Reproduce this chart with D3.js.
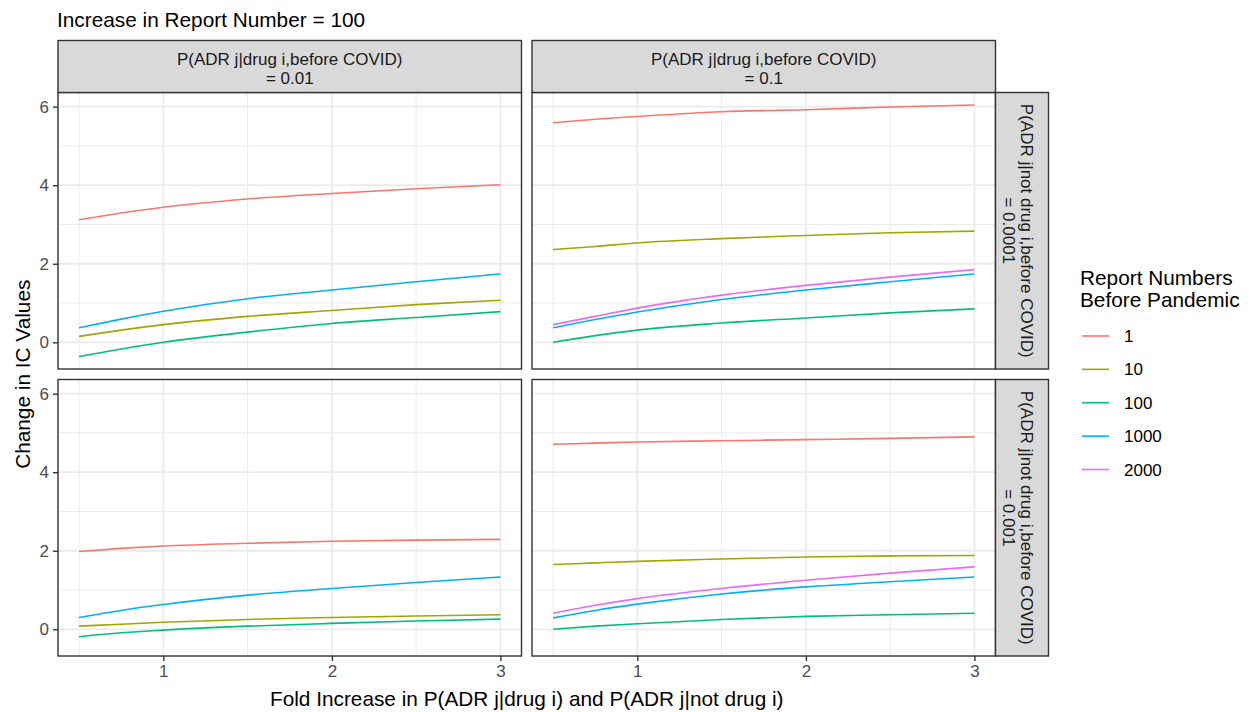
<!DOCTYPE html>
<html><head><meta charset="utf-8">
<script src="https://cdn.jsdelivr.net/npm/d3@7"></script>
<style>
body{margin:0;background:#fff;}
svg{display:block;font-family:"Liberation Sans",Arial,sans-serif;}
</style></head>
<body><svg id="c" width="1250" height="712"></svg>
<script>
// ---------------- data ----------------
const foldX = [0.5, 0.75, 1, 1.5, 2, 2.5, 3];
const groups = ["1", "10", "100", "1000", "2000"];
const groupColors = ["#F8766D", "#A3A500", "#00BF7D", "#00B0F6", "#E76BF3"];
const colLabels = [["P(ADR j|drug i,before COVID)", "= 0.01"], ["P(ADR j|drug i,before COVID)", "= 0.1"]];
const rowLabels = [["P(ADR j|not drug i,before COVID)", "= 0.0001"], ["P(ADR j|not drug i,before COVID)", "= 0.001"]];
const xTicks = [1, 2, 3];
const yTicks = [0, 2, 4, 6];

// panel (row 0 = not drug 0.0001, col 0 = drug 0.01)
const tl_1    = [3.12, 3.29, 3.44, 3.65, 3.79, 3.91, 4.01];
const tl_10   = [0.15, 0.31, 0.45, 0.66, 0.81, 0.96, 1.07];
const tl_100  = [-0.36, -0.17, 0.00, 0.26, 0.48, 0.63, 0.78];
const tl_1000 = [0.37, 0.59, 0.79, 1.11, 1.33, 1.54, 1.74];

const tr_1    = [5.59, 5.68, 5.75, 5.87, 5.92, 5.99, 6.04];
const tr_10   = [2.36, 2.44, 2.53, 2.64, 2.72, 2.79, 2.83];
const tr_100  = [0.00, 0.17, 0.31, 0.49, 0.62, 0.75, 0.85];
const tr_1000 = [0.37, 0.58, 0.77, 1.09, 1.33, 1.54, 1.74];
const tr_2000 = [0.45, 0.66, 0.87, 1.20, 1.45, 1.66, 1.85];

const bl_1    = [1.98, 2.06, 2.12, 2.19, 2.24, 2.27, 2.29];
const bl_10   = [0.08, 0.13, 0.18, 0.25, 0.30, 0.34, 0.37];
const bl_100  = [-0.19, -0.09, -0.02, 0.08, 0.15, 0.21, 0.26];
const bl_1000 = [0.30, 0.48, 0.63, 0.87, 1.04, 1.19, 1.33];

const br_1    = [4.71, 4.74, 4.77, 4.80, 4.83, 4.86, 4.90];
const br_10   = [1.65, 1.69, 1.73, 1.79, 1.84, 1.87, 1.88];
const br_100  = [0.00, 0.08, 0.14, 0.25, 0.33, 0.37, 0.41];
const br_1000 = [0.29, 0.48, 0.64, 0.90, 1.08, 1.21, 1.33];
const br_2000 = [0.41, 0.61, 0.78, 1.04, 1.25, 1.43, 1.59];

const panelSeries = [
  [ {"1":tl_1,"10":tl_10,"100":tl_100,"1000":tl_1000},
    {"1":tr_1,"10":tr_10,"100":tr_100,"1000":tr_1000,"2000":tr_2000} ],
  [ {"1":bl_1,"10":bl_10,"100":bl_100,"1000":bl_1000},
    {"1":br_1,"10":br_10,"100":br_100,"1000":br_1000,"2000":br_2000} ]
];

// ---------------- layout ----------------
const svg = d3.select("#c");
const colX = [58, 532], panelW = 463.5;
const rowY = [92.5, 379.5], panelH = 276.5;
const stripH = 52, stripW = 53;
const smallFont = 17, bigFont = 20.8;

const color = d3.scaleOrdinal().domain(groups).range(groupColors);

// shared scales with ggplot-like 5% expansion
const xExt = d3.extent(foldX);
const xPad = (xExt[1] - xExt[0]) * 0.05;
const allY = panelSeries.flat().flatMap(p => Object.values(p).flat());
const yExt = d3.extent(allY);
const yPad = (yExt[1] - yExt[0]) * 0.05;
const x = d3.scaleLinear().domain([xExt[0] - xPad, xExt[1] + xPad]).range([0, panelW]);
const y = d3.scaleLinear().domain([yExt[0] - yPad, yExt[1] + yPad]).range([panelH, 0]);

const xMinor = [0.5, 1.5, 2.5];
const yMinor = [1, 3, 5];

const line = d3.line().x((d, i) => x(foldX[i])).y(d => y(d)).curve(d3.curveMonotoneX);

for (let r = 0; r < 2; r++) {
  for (let c = 0; c < 2; c++) {
    const g = svg.append("g").attr("transform", `translate(${colX[c]},${rowY[r]})`);
    g.append("rect").attr("width", panelW).attr("height", panelH).attr("fill", "#fff");
    // minor grid
    g.selectAll(".vmin").data(xMinor).join("line")
      .attr("x1", d => x(d)).attr("x2", d => x(d)).attr("y1", 0).attr("y2", panelH)
      .attr("stroke", "#EBEBEB").attr("stroke-width", 1);
    g.selectAll(".hmin").data(yMinor).join("line")
      .attr("y1", d => y(d)).attr("y2", d => y(d)).attr("x1", 0).attr("x2", panelW)
      .attr("stroke", "#EBEBEB").attr("stroke-width", 1);
    // major grid
    g.selectAll(".vmaj").data(xTicks).join("line")
      .attr("x1", d => x(d)).attr("x2", d => x(d)).attr("y1", 0).attr("y2", panelH)
      .attr("stroke", "#EBEBEB").attr("stroke-width", 1.8);
    g.selectAll(".hmaj").data(yTicks).join("line")
      .attr("y1", d => y(d)).attr("y2", d => y(d)).attr("x1", 0).attr("x2", panelW)
      .attr("stroke", "#EBEBEB").attr("stroke-width", 1.8);
    // lines
    const ser = panelSeries[r][c];
    groups.filter(k => ser[k]).forEach(k => {
      g.append("path").datum(ser[k]).attr("d", line)
        .attr("fill", "none").attr("stroke", color(k)).attr("stroke-width", 1.6);
    });
    // border
    g.append("rect").attr("width", panelW).attr("height", panelH)
      .attr("fill", "none").attr("stroke", "#333333").attr("stroke-width", 1.4);

    // y axis on left column
    if (c === 0) {
      const ya = d3.axisLeft(y).tickValues(yTicks).tickSize(5).tickPadding(4).tickFormat(d3.format("d"));
      const ag = g.append("g").call(ya);
      ag.select(".domain").remove();
      ag.selectAll(".tick line").attr("stroke", "#333333").attr("stroke-width", 1.4);
      ag.selectAll(".tick text").attr("fill", "#4D4D4D").style("font-size", smallFont + "px")
        .style("font-family", "Liberation Sans, Arial, sans-serif");
    }
    // x axis on bottom row
    if (r === 1) {
      const xa = d3.axisBottom(x).tickValues(xTicks).tickSize(5).tickPadding(4).tickFormat(d3.format("d"));
      const ag = g.append("g").attr("transform", `translate(0,${panelH})`).call(xa);
      ag.select(".domain").remove();
      ag.selectAll(".tick line").attr("stroke", "#333333").attr("stroke-width", 1.4);
      ag.selectAll(".tick text").attr("fill", "#4D4D4D").style("font-size", smallFont + "px")
        .style("font-family", "Liberation Sans, Arial, sans-serif");
    }
  }
}

// top strips
colLabels.forEach((lab, c) => {
  const g = svg.append("g").attr("transform", `translate(${colX[c]},${rowY[0] - stripH})`);
  g.append("rect").attr("width", panelW).attr("height", stripH)
    .attr("fill", "#D9D9D9").attr("stroke", "#333333").attr("stroke-width", 1.4);
  const t = g.append("text").attr("text-anchor", "middle").attr("fill", "#1A1A1A")
    .style("font-size", smallFont + "px");
  t.append("tspan").attr("x", panelW / 2).attr("y", stripH / 2 - 1.5).text(lab[0]);
  t.append("tspan").attr("x", panelW / 2).attr("y", stripH / 2 + 17).text(lab[1]);
});

// right strips
rowLabels.forEach((lab, r) => {
  const sx = colX[1] + panelW;
  const g = svg.append("g").attr("transform", `translate(${sx},${rowY[r]})`);
  g.append("rect").attr("width", stripW).attr("height", panelH)
    .attr("fill", "#D9D9D9").attr("stroke", "#333333").attr("stroke-width", 1.4);
  const t = g.append("text").attr("text-anchor", "middle").attr("fill", "#1A1A1A")
    .style("font-size", smallFont + "px")
    .attr("transform", `translate(${stripW / 2},${panelH / 2}) rotate(90)`);
  t.append("tspan").attr("x", 0).attr("y", 1.5).text(lab[0]);
  t.append("tspan").attr("x", 0).attr("y", 19.5).text(lab[1]);
});

// titles
svg.append("text").attr("x", 57).attr("y", 26.5).attr("fill", "#000")
  .style("font-size", bigFont + "px").text("Increase in Report Number = 100");
svg.append("text").attr("x", (colX[0] + colX[1] + panelW) / 2).attr("y", 706)
  .attr("text-anchor", "middle").attr("fill", "#000").style("font-size", bigFont + "px")
  .text("Fold Increase in P(ADR j|drug i) and P(ADR j|not drug i)");
svg.append("text").attr("transform", `translate(29.5,${(rowY[0] + rowY[1] + panelH) / 2}) rotate(-90)`)
  .attr("text-anchor", "middle").attr("fill", "#000").style("font-size", bigFont + "px")
  .text("Change in IC Values");

// legend
const lg = svg.append("g").attr("transform", "translate(1080,0)");
lg.append("text").attr("x", 0).attr("y", 285).style("font-size", bigFont + "px").attr("fill", "#000")
  .text("Report Numbers");
lg.append("text").attr("x", 0).attr("y", 306.5).style("font-size", bigFont + "px").attr("fill", "#000")
  .text("Before Pandemic");
const legY = d3.scalePoint().domain(groups).range([336, 469.5]);
groups.forEach(k => {
  lg.append("line").attr("x1", 2).attr("x2", 29).attr("y1", legY(k)).attr("y2", legY(k))
    .attr("stroke", color(k)).attr("stroke-width", 1.6);
  lg.append("text").attr("x", 44).attr("y", legY(k) + 6).style("font-size", smallFont + "px")
    .attr("fill", "#000").text(k);
});
</script>
</body></html>
